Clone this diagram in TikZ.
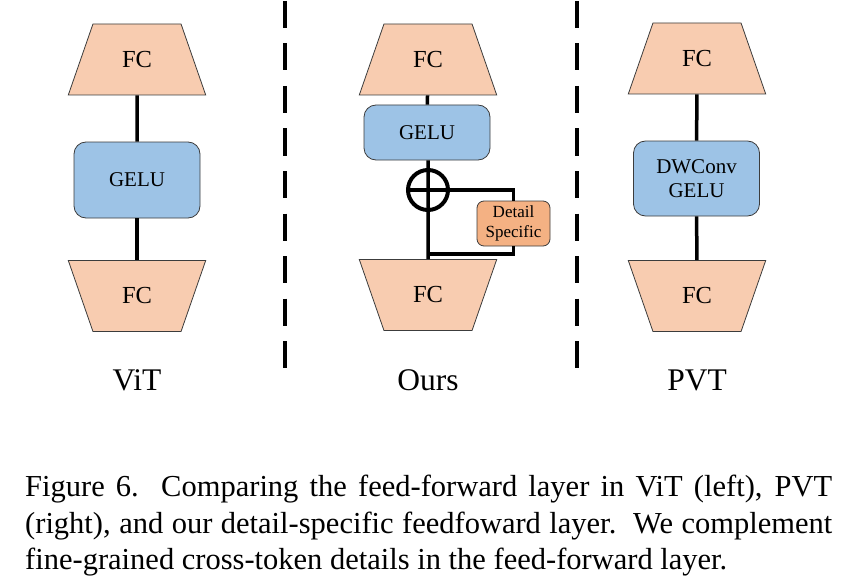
\documentclass[tikz,border=0pt]{standalone}
\usepackage{fontspec}
\setmainfont{Liberation Serif}
\usetikzlibrary{shapes.geometric}
\definecolor{fcfill}{RGB}{248,204,176}
\definecolor{gelufill}{RGB}{157,195,230}
\definecolor{detfill}{RGB}{244,177,131}
\definecolor{edge}{RGB}{60,60,60}
\begin{document}
\begin{tikzpicture}[x=1pt,y=-1pt,
  fcup/.style={trapezium, trapezium stretches=true, trapezium left angle=63, trapezium right angle=63,
    minimum width=138pt, minimum height=71pt, inner sep=0pt, fill=fcfill, draw=edge, line width=0.8pt,
    font=\fontsize{24.5}{28}\selectfont},
  fcdown/.style={fcup, shape border rotate=180},
  actbox/.style={rectangle, rounded corners=12pt, fill=gelufill, draw=edge, line width=0.8pt,
    minimum width=126pt, inner sep=0pt, align=center, font=\fontsize{21}{24}\selectfont},
  detbox/.style={rectangle, rounded corners=7pt, fill=detfill, draw=edge, line width=0.8pt,
    minimum width=73pt, minimum height=45pt, inner sep=0pt, align=center, font=\fontsize{17}{20}\selectfont},
  conn/.style={line width=3.5pt, black},
  sep/.style={line width=4pt, dash pattern=on 27pt off 15.5pt},
  lab/.style={anchor=base, font=\fontsize{31.5}{34}\selectfont}]
\useasboundingbox (0,0) rectangle (847,586);
% ViT
\node[fcup] (v1) at (137,59.5) {FC};
\node[actbox, minimum height=76pt] (vg) at (137,180) {GELU};
\node[fcdown] (v2) at (137,296) {FC};
\draw[conn] (v1) -- (vg);
\draw[conn] (vg) -- (v2);
\node[lab] (vl) at (137,390) {ViT};
% Ours
\node[fcup] (o1) at (428,59.5) {FC};
\node[actbox, minimum height=55pt] (og) at (427,132.5) {GELU};
\node[circle, draw=black, line width=4pt, minimum size=40pt, inner sep=0pt] (plus) at (428,190) {};
\node[detbox] (det) at (513.5,223.5) {Detail\\Specific};
\node[fcdown] (o2) at (428,295) {FC};
\coordinate (jn) at (428,254);
\draw[conn] (o1) -- (og);
\draw[conn] (og.south -| plus) -- (o2);
\draw[conn] (plus.west) -- (plus.east) -| (det.north);
\draw[conn] (det.south) |- (jn);
\node[lab] (ol) at (428,390) {Ours};
% PVT
\node[fcup] (p1) at (697,58.5) {FC};
\node[actbox, minimum height=75pt] (pg) at (696.5,178.5) {DWConv\\GELU};
\node[fcdown] (p2) at (697,296) {FC};
\draw[conn] (p1) -- (pg);
\draw[conn] (pg) -- (p2);
\node[lab] (pl) at (697,390) {PVT};
% separators
\coordinate (s1a) at (285,1); \coordinate (s1b) at (285,368);
\coordinate (s2a) at (577,1); \coordinate (s2b) at (577,368);
\draw[sep] (s1a) -- (s1b);
\draw[sep] (s2a) -- (s2b);
% caption
\node[anchor=north west, inner sep=0pt, text width=807pt, align=justify,
  font=\fontsize{30.5}{36.5}\selectfont] (cap) at (25,475)
  {Figure 6.\ \ Comparing the feed-forward layer in ViT (left), PVT\linebreak
   (right), and our detail-specific feedfoward layer.\ \ We complement\linebreak
   fine-grained cross-token details in the feed-forward layer.};
\end{tikzpicture}
\end{document}
